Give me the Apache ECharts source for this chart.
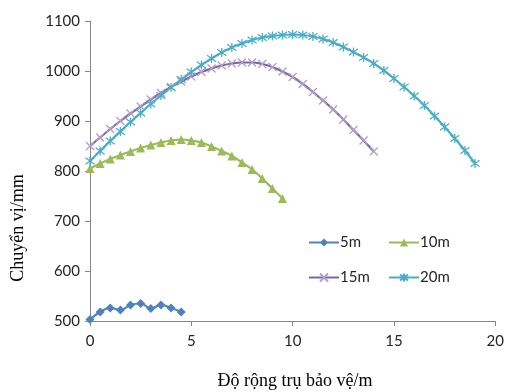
<!DOCTYPE html>
<html><head><meta charset="utf-8">
<script src="https://cdn.jsdelivr.net/npm/echarts@6/dist/echarts.min.js"></script>
<style>html,body{margin:0;padding:0;background:#fff}#c{width:507px;height:392px}</style>
</head><body><div id="c"></div>
<script>
const seriesNames = ['5m', '10m', '15m', '20m'];
const x5 = [0,0.5,1,1.5,2,2.5,3,3.5,4,4.5];
const y5 = [503,518,526,522,532,535,525,532,526,518];
const x10 = [0,0.5,1,1.5,2,2.5,3,3.5,4,4.5,5,5.5,6,6.5,7,7.5,8,8.5,9,9.5];
const y10 = [805,815,824,832,839,846,852,857,861,863,861,857,849,840,830,817,803,785,765,745];
const x15 = [0,0.5,1,1.5,2,2.5,3,3.5,4,4.5,5,5.5,6,6.5,7,7.5,8,8.5,9,9.5,10,10.5,11,11.5,12,12.5,13,13.5,14];
const y15 = [850,867,884,900,915,929,943,956,968,979,989,998,1005,1011,1015,1017,1017,1014,1008,999,988,974,958,941,923,903,882,861,839];
const x20 = [0,0.5,1,1.5,2,2.5,3,3.5,4,4.5,5,5.5,6,6.5,7,7.5,8,8.5,9,9.5,10,10.5,11,11.5,12,12.5,13,13.5,14,14.5,15,15.5,16,16.5,17,17.5,18,18.5,19];
const y20 = [820,840,860,879,898,916,934,951,967,983,998,1012,1025,1037,1047,1055,1062,1067,1070,1072,1073,1072,1069,1064,1057,1048,1038,1027,1015,1001,985,968,950,931,910,888,865,841,815];
const xTicks = [0,5,10,15,20];
const yTicks = [500,600,700,800,900,1000,1100];

const colors = ['#4F81BD','#9BBB59','#8064A2','#4BACC6'];
const symColors = ['#4F81BD','#9BBB59','#B09FCB','#4BACC6'];
const symbols = ['diamond','triangle','path://M0,0L10,10M10,0L0,10','path://M0,0L10,10M10,0L0,10M5,-2L5,12'];
const sizes = [9,9,8,9];
const xs = [x5,x10,x15,x20], ys = [y5,y10,y15,y20];

const fontNum = 'Lato, "Open Sans", sans-serif';
const series = seriesNames.map((n,i)=>({
  name:n, type:'line', smooth:true,
  data: xs[i].map((x,j)=>[x, ys[i][j]]),
  symbol: symbols[i], symbolSize: sizes[i], showSymbol:true,
  lineStyle:{color:colors[i], width:2.2},
  itemStyle: i<2 ? {color:colors[i]} : {color:'none', borderColor:symColors[i], borderWidth:1.3},
  emphasis:{disabled:true}
}));

const legendPos = [[308,235],[388,235],[308,270],[388,270]];
const legends = seriesNames.map((n,i)=>({
  data:[n], left:legendPos[i][0], top:legendPos[i][1], itemWidth:30, itemHeight:10, itemGap:0,
  padding:0, textStyle:{fontFamily:fontNum, fontSize:15, color:'#262626', padding:[0,0,0,-4]}
}));

const chart = echarts.init(document.getElementById('c'), null, {renderer:'canvas'});
chart.setOption({
  animation:false,
  color: colors,
  grid:{left:90, right:11, top:21, bottom:71},
  xAxis:{type:'value', min:xTicks[0], max:xTicks[xTicks.length-1], interval:5,
    axisLine:{lineStyle:{color:'#868686', width:1}},
    axisTick:{show:true, length:5, lineStyle:{color:'#868686'}},
    splitLine:{show:false},
    axisLabel:{fontFamily:fontNum, fontSize:15, color:'#262626', margin:13}},
  yAxis:{type:'value', min:yTicks[0], max:yTicks[yTicks.length-1], interval:100,
    axisLine:{show:true, lineStyle:{color:'#868686', width:1}},
    axisTick:{show:true, length:5, lineStyle:{color:'#868686'}},
    splitLine:{show:false},
    axisLabel:{fontFamily:fontNum, fontSize:15, color:'#262626', margin:10, formatter:(v)=>String(v)}},
  legend: legends,
  graphic:[
    {type:'text', x:295, y:381, style:{text:'Độ rộng trụ bảo vệ/m', font:'18px "Liberation Serif", serif', fill:'#000', align:'center', verticalAlign:'middle'}},
    {type:'text', x:18, y:228, rotation:Math.PI/2, style:{text:'Chuyển vị/mm', font:'18px "Liberation Serif", serif', fill:'#000', align:'center', verticalAlign:'middle'}}
  ],
  series: series
});
</script></body></html>
